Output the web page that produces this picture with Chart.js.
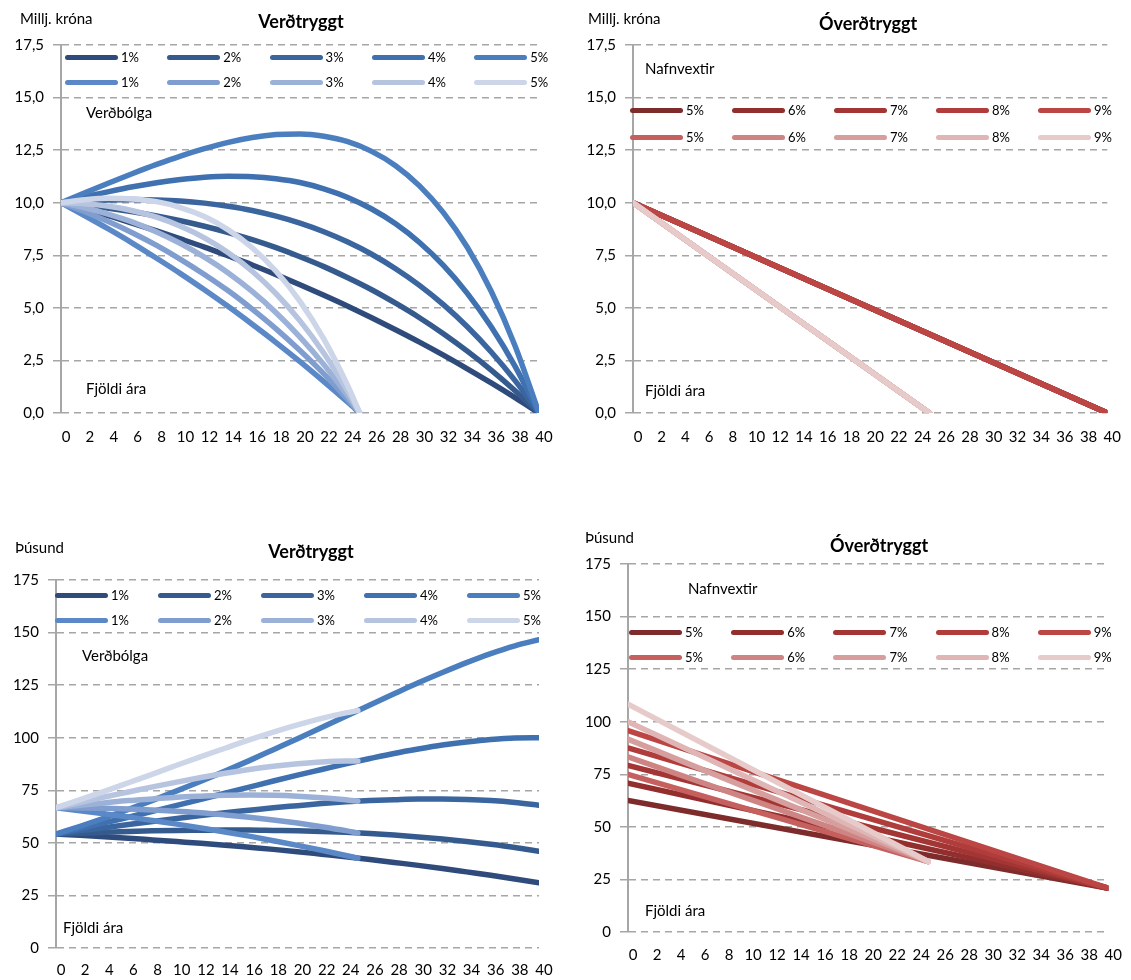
<!DOCTYPE html>
<html lang="is">
<head>
<meta charset="utf-8">
<title>Verðtryggt og óverðtryggt lán</title>
<script src="https://cdn.jsdelivr.net/npm/chart.js@4.4.1/dist/chart.umd.min.js"></script>
<style>
  html, body { margin: 0; padding: 0; background: #fff; }
  #page { position: relative; width: 1131px; height: 980px; overflow: hidden;
          font-family: Lato, "Open Sans", "Noto Sans", sans-serif; color: #000; }
  canvas { position: absolute; }
  .t { position: absolute; white-space: nowrap; line-height: 1; font-size: 15px;
       transform: translateY(-50%); z-index: 2; }
  .title { position: absolute; white-space: nowrap; line-height: 1; font-size: 18px;
           font-weight: bold; transform: translate(-50%, -50%); z-index: 2; }
  .sw { position: absolute; height: 5px; width: 53px; border-radius: 2.5px; z-index: 2; }
  .lg { position: absolute; white-space: nowrap; line-height: 1; font-size: 13px;
        transform: translateY(-50%); z-index: 2; }
</style>
</head>
<body>
<div id="page">
  <canvas id="tl" width="565" height="470" style="left:0px;top:0px"></canvas>
  <canvas id="tr" width="565" height="470" style="left:566px;top:0px"></canvas>
  <canvas id="bl" width="565" height="480" style="left:0px;top:500px"></canvas>
  <canvas id="br" width="565" height="480" style="left:566px;top:500px"></canvas>

  <div class="t" style="left:20px;top:18px">Millj. króna</div>
  <div class="title" style="left:301px;top:21px">Verðtryggt</div>
  <div class="t" style="left:86px;top:112px">Verðbólga</div>
  <div class="t" style="left:86px;top:388px">Fjöldi ára</div>

  <div class="t" style="left:588px;top:18px">Millj. króna</div>
  <div class="title" style="left:868px;top:23px">Óverðtryggt</div>
  <div class="t" style="left:645px;top:68px">Nafnvextir</div>
  <div class="t" style="left:645px;top:390px">Fjöldi ára</div>

  <div class="t" style="left:15px;top:547px">Þúsund</div>
  <div class="title" style="left:311px;top:551px">Verðtryggt</div>
  <div class="t" style="left:82px;top:655px">Verðbólga</div>
  <div class="t" style="left:63px;top:927px">Fjöldi ára</div>

  <div class="t" style="left:585px;top:537px">Þúsund</div>
  <div class="title" style="left:879px;top:545px">Óverðtryggt</div>
  <div class="t" style="left:688px;top:588px">Nafnvextir</div>
  <div class="t" style="left:645px;top:910px">Fjöldi ára</div>
</div>

<script>
// ---- Axis values -------------------------------------------------------
const years40 = [0,2,4,6,8,10,12,14,16,18,20,22,24,26,28,30,32,34,36,38,40];
const years25 = [0,2,4,6,8,10,12,14,16,18,20,22,24,25];
const inflationLabels = ['1%','2%','3%','4%','5%'];
const nominalLabels = ['5%','6%','7%','8%','9%'];

// ---- Verðtryggt: eftirstöðvar (millj. króna), 40 ára lán ------------------
const vBal40_1 = [10,9.69,9.37,9.02,8.66,8.28,7.89,7.47,7.04,6.58,6.10,5.60,5.08,4.53,3.96,3.37,2.75,2.10,1.43,0.73,0];
const vBal40_2 = [10,9.88,9.74,9.57,9.37,9.14,8.88,8.58,8.24,7.86,7.43,6.96,6.43,5.86,5.22,4.53,3.77,2.94,2.04,1.06,0];
const vBal40_3 = [10,10.08,10.13,10.15,10.13,10.08,9.98,9.83,9.63,9.36,9.03,8.62,8.13,7.55,6.86,6.07,5.15,4.10,2.90,1.54,0];
const vBal40_4 = [10,10.28,10.53,10.76,10.95,11.10,11.21,11.26,11.24,11.14,10.96,10.66,10.25,9.70,9.00,8.11,7.02,5.69,4.10,2.22,0];
const vBal40_5 = [10,10.47,10.94,11.39,11.82,12.22,12.57,12.87,13.10,13.24,13.27,13.16,12.90,12.44,11.76,10.80,9.53,7.88,5.79,3.19,0];
// 25 ára lán
const vBal25_1 = [10,9.38,8.74,8.07,7.36,6.63,5.86,5.06,4.22,3.35,2.44,1.49,0.51,0];
const vBal25_2 = [10,9.57,9.09,8.56,7.97,7.31,6.59,5.81,4.94,4.00,2.97,1.86,0.64,0];
const vBal25_3 = [10,9.76,9.45,9.08,8.61,8.06,7.41,6.66,5.78,4.77,3.61,2.30,0.81,0];
const vBal25_4 = [10,9.95,9.83,9.62,9.31,8.88,8.33,7.62,6.74,5.67,4.38,2.84,1.03,0];
const vBal25_5 = [10,10.14,10.21,10.18,10.05,9.77,9.34,8.71,7.86,6.74,5.31,3.51,1.29,0];

// ---- Óverðtryggt: eftirstöðvar (millj. króna) ----------------------------
const oBalStart = [10,10,10,10,10];
const oBalEnd = [0,0,0,0,0];

// ---- Verðtryggt: greiðsla á mánuði (þúsund), 40 ára lán --------------------
const vPay40_1 = [54.2,53.6,52.9,52.2,51.4,50.6,49.8,48.9,47.9,46.9,45.8,44.6,43.4,42.1,40.7,39.3,37.8,36.2,34.6,32.8,31.0];
const vPay40_2 = [54.2,54.6,55.0,55.4,55.7,55.9,56.0,56.1,56.1,55.9,55.7,55.4,55.0,54.4,53.7,52.8,51.8,50.6,49.3,47.8,46.0];
const vPay40_3 = [54.2,55.7,57.2,58.7,60.2,61.6,63.0,64.3,65.5,66.7,67.7,68.7,69.5,70.1,70.5,70.8,70.8,70.6,70.1,69.2,67.9];
const vPay40_4 = [54.2,56.8,59.5,62.2,65.0,67.8,70.7,73.6,76.5,79.4,82.2,84.9,87.6,90.1,92.5,94.6,96.5,98.0,99.2,99.9,100.0];
const vPay40_5 = [54.2,57.9,61.8,65.9,70.2,74.7,79.3,84.1,89.1,94.3,99.5,104.8,110.2,115.6,120.9,126.1,131.0,135.7,140.0,143.7,146.6];
// 25 ára lán
const vPay25_1 = [66.7,65.3,63.8,62.3,60.6,58.9,57.1,55.2,53.2,51.0,48.8,46.5,44.0,42.7];
const vPay25_2 = [66.7,66.6,66.4,66.1,65.6,65.0,64.3,63.3,62.2,60.9,59.4,57.7,55.8,54.7];
const vPay25_3 = [66.7,67.9,69.0,70.1,70.9,71.7,72.2,72.6,72.7,72.6,72.2,71.5,70.5,69.8];
const vPay25_4 = [66.7,69.2,71.8,74.2,76.6,78.9,81.1,83.1,84.9,86.4,87.6,88.5,88.9,88.9];
const vPay25_5 = [66.7,70.6,74.5,78.6,82.7,86.9,91.0,95.0,99.0,102.7,106.1,109.2,111.8,112.9];

// ---- Óverðtryggt: greiðsla á mánuði (þúsund) -----------------------------
const oPay40Start = [62.5,70.8,79.2,87.5,95.8];
const oPay40End = [20.8,20.8,20.8,20.8,20.8];
const oPay25Start = [75.0,83.3,91.7,100.0,108.3];
const oPay25End = [33.5,33.5,33.5,33.5,33.5];

// ---- Litir ---------------------------------------------------------------
const blue40 = ['#2F4B7C','#355B8E','#3A659F','#3F70AF','#4A7EBF'];
const blue25 = ['#5B88C6','#7F9ECF','#9BB1D8','#B6C4E0','#CDD6E8'];
const red40 = ['#7E2B2B','#922F2E','#A33634','#B03D3B','#BB4644'];
const red25 = ['#C5605E','#CE8483','#D69F9E','#DFB6B5','#E7CBCA'];

const FONT = 'Lato, "Open Sans", "Noto Sans", sans-serif';

function series(xs, ys) { return xs.map((x, i) => ({ x: x, y: ys[i] })); }
function twoPoint(y0, x1, y1) { return [{ x: 0, y: y0 }, { x: x1, y: y1 }]; }

// Later datasets are painted on top of earlier ones.
function stackOrder(list) {
  return list.map((d, i) => Object.assign({ fill: false, order: list.length - i }, d));
}

const tlSets = stackOrder([
  ...[vBal40_1, vBal40_2, vBal40_3, vBal40_4, vBal40_5].map((ys, i) => ({ data: series(years40, ys), borderColor: blue40[i] })),
  ...[vBal25_1, vBal25_2, vBal25_3, vBal25_4, vBal25_5].map((ys, i) => ({ data: series(years25, ys), borderColor: blue25[i] }))
]);
const trSets = stackOrder([
  ...oBalStart.map((y0, i) => ({ data: twoPoint(y0, 40, oBalEnd[i]), borderColor: red40[i] })),
  ...oBalStart.map((y0, i) => ({ data: twoPoint(y0, 25, oBalEnd[i]), borderColor: red25[i] }))
]);
const blSets = stackOrder([
  ...[vPay40_1, vPay40_2, vPay40_3, vPay40_4, vPay40_5].map((ys, i) => ({ data: series(years40, ys), borderColor: blue40[i] })),
  ...[vPay25_1, vPay25_2, vPay25_3, vPay25_4, vPay25_5].map((ys, i) => ({ data: series(years25, ys), borderColor: blue25[i] }))
]);
const brSets = stackOrder([
  ...oPay40Start.map((y0, i) => ({ data: twoPoint(y0, 40, oPay40End[i]), borderColor: red40[i] })),
  ...oPay25Start.map((y0, i) => ({ data: twoPoint(y0, 25, oPay25End[i]), borderColor: red25[i] }))
]);

const commaOne = v => v.toFixed(1).replace('.', ',');
const whole = v => String(v);

function buildChart(id, cfg) {
  const [cx, cy, cw, ch] = cfg.box;
  const [L, T, R, B] = cfg.area;
  const xAxisH = 40;
  return new Chart(document.getElementById(id), {
    type: 'line',
    data: { datasets: cfg.datasets },
    options: {
      responsive: false,
      animation: false,
      events: [],
      layout: { padding: { left: 0, top: T - cy, right: cx + cw - R, bottom: cy + ch - B - xAxisH } },
      plugins: { legend: { display: false }, tooltip: { enabled: false }, title: { display: false } },
      elements: {
        point: { radius: 0 },
        line: { borderWidth: 5.5, borderCapStyle: 'round', borderJoinStyle: 'round', cubicInterpolationMode: 'monotone' }
      },
      scales: {
        x: {
          type: 'linear', min: 0, max: 40,
          afterFit: s => { s.height = xAxisH; },
          grid: { display: false, drawTicks: false },
          border: { display: false },
          ticks: { stepSize: 2, autoSkip: false, maxRotation: 0, padding: cfg.xPad, labelOffset: 5,
                   color: '#000', font: { family: FONT, size: 15 }, callback: whole }
        },
        y: {
          min: 0, max: cfg.yMax,
          afterFit: s => { s.width = L - cx; },
          grid: { color: '#A6A6A6', lineWidth: 1.5, tickLength: 8, tickColor: '#A6A6A6', tickWidth: 1.5, tickBorderDash: [7, 5] },
          border: { display: true, color: '#A6A6A6', width: 2, dash: [7, 5] },
          ticks: { stepSize: cfg.yStep, padding: 9, color: '#000', font: { family: FONT, size: 15 }, callback: cfg.fmt }
        }
      }
    }
  });
}

buildChart('tl', { box: [0, 0, 565, 470], area: [61, 45, 539, 413], yMax: 17.5, yStep: 2.5, fmt: commaOne, xPad: 15, datasets: tlSets });
buildChart('tr', { box: [566, 0, 565, 470], area: [633, 45, 1112, 413], yMax: 17.5, yStep: 2.5, fmt: commaOne, xPad: 15, datasets: trSets });
buildChart('bl', { box: [0, 500, 565, 480], area: [56, 580, 539, 948], yMax: 175, yStep: 25, fmt: whole, xPad: 13, datasets: blSets });
buildChart('br', { box: [566, 500, 565, 480], area: [628, 564, 1112, 932], yMax: 175, yStep: 25, fmt: whole, xPad: 14, datasets: brSets });

// ---- Legends: two rows (40 ára / 25 ára), five columns ----------------------
function legend(x0, rows, step, labels, colorsTop, colorsBottom) {
  const page = document.getElementById('page');
  [colorsTop, colorsBottom].forEach((cols, r) => {
    labels.forEach((lab, i) => {
      const x = x0 + i * step;
      const sw = document.createElement('div');
      sw.className = 'sw';
      sw.style.left = x + 'px';
      sw.style.top = (rows[r] - 2.5) + 'px';
      sw.style.background = cols[i];
      page.appendChild(sw);
      const tx = document.createElement('div');
      tx.className = 'lg';
      tx.style.left = (x + 56) + 'px';
      tx.style.top = rows[r] + 'px';
      tx.textContent = lab;
      page.appendChild(tx);
    });
  });
}
legend(65, [57, 82], 102.3, inflationLabels, blue40, blue25);
legend(630, [110, 137], 102, nominalLabels, red40, red25);
legend(55, [595, 620], 103, inflationLabels, blue40, blue25);
legend(629, [632, 657], 102.2, nominalLabels, red40, red25);
</script>
</body>
</html>
